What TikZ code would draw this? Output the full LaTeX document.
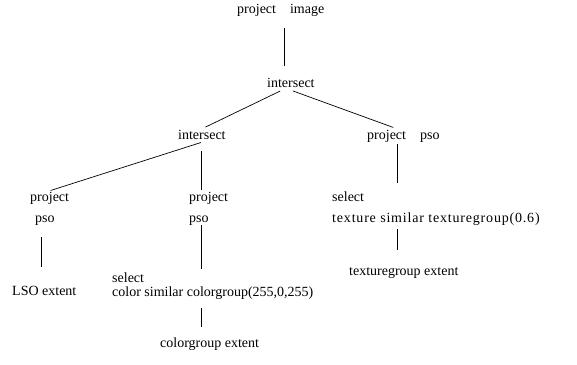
\documentclass[tikz,border=0pt]{standalone}
\usepackage{fontspec}
\setmainfont{Liberation Serif}

\begin{document}
\begin{tikzpicture}[x=1bp,y=-1bp,
    lbl/.style={anchor=base west,inner sep=0pt,text height=10bp,text depth=3bp,font=\fontsize{14bp}{17bp}\selectfont},
    edge/.style={line width=0.7pt}]
            \useasboundingbox (0,0) rectangle (577,364);

            \coordinate (colL) at (41,0);
            \coordinate (colM) at (201,0);
            \coordinate (colT) at (284,0);
            \coordinate (colR) at (397,0);

            \node[lbl] (top) at (237,13.5) {project\quad image};
            \node[lbl] (isect) at (267,87) {intersect};
            \node[lbl] (isectl) at (178,139) {intersect};
            \node[lbl] (projr) at (367,139) {project\quad pso};
            \node[lbl] (projl) at (30,201) {project};
            \node[lbl] (psol) at (35,222) {pso};
            \node[lbl] (projm) at (189,201) {project};
            \node[lbl] (psom) at (189,222) {pso};
            \node[lbl] (selr) at (332,201) {select};
            \node[lbl] (texr) at (332,222) {\addfontfeature{LetterSpace=5.8}texture similar texturegroup(0.6)};
            \node[lbl] (lso) at (12,295) {LSO extent};
            \node[lbl] (selm) at (112,282) {select};
            \node[lbl] (colm) at (112,296) {color similar colorgroup(255,0,255)};
            \node[lbl] (cext) at (160,347) {colorgroup extent};
            \node[lbl] (text) at (349,275) {texturegroup extent};

            \draw[edge,shorten <=11.5bp,shorten >=11bp] (top.south -| colT) -- (isect.north -| colT);
            \draw[edge,shorten <=2bp,shorten >=4bp] ([xshift=-9bp]isect.south) -- (isectl.north);
            \draw[edge,shorten <=2bp,shorten >=4bp] (isect.south) -- (projr.north -| colR);
            \draw[edge,shorten <=1bp,shorten >=1bp] (isectl.south) -- (projl.north);
            \draw[edge,shorten <=9bp,shorten >=1bp] (isectl.south -| colM) -- (projm.north -| colM);
            \draw[edge,shorten <=2bp,shorten >=8bp] (projr.south -| colR) -- (selr.north -| colR);
            \draw[edge,shorten <=12bp,shorten >=18bp] (psol.south -| colL) -- (lso.north -| colL);
            \draw[edge,shorten >=3bp] (psom.south -| colM) -- (selm.north -| colM);
            \draw[edge,shorten <=9bp,shorten >=10bp] (colm.south -| colM) -- (cext.north -| colM);
            \draw[edge,shorten <=4bp,shorten >=15bp] (texr.south -| colR) -- (text.north -| colR);
        \end{tikzpicture}
\end{document}
